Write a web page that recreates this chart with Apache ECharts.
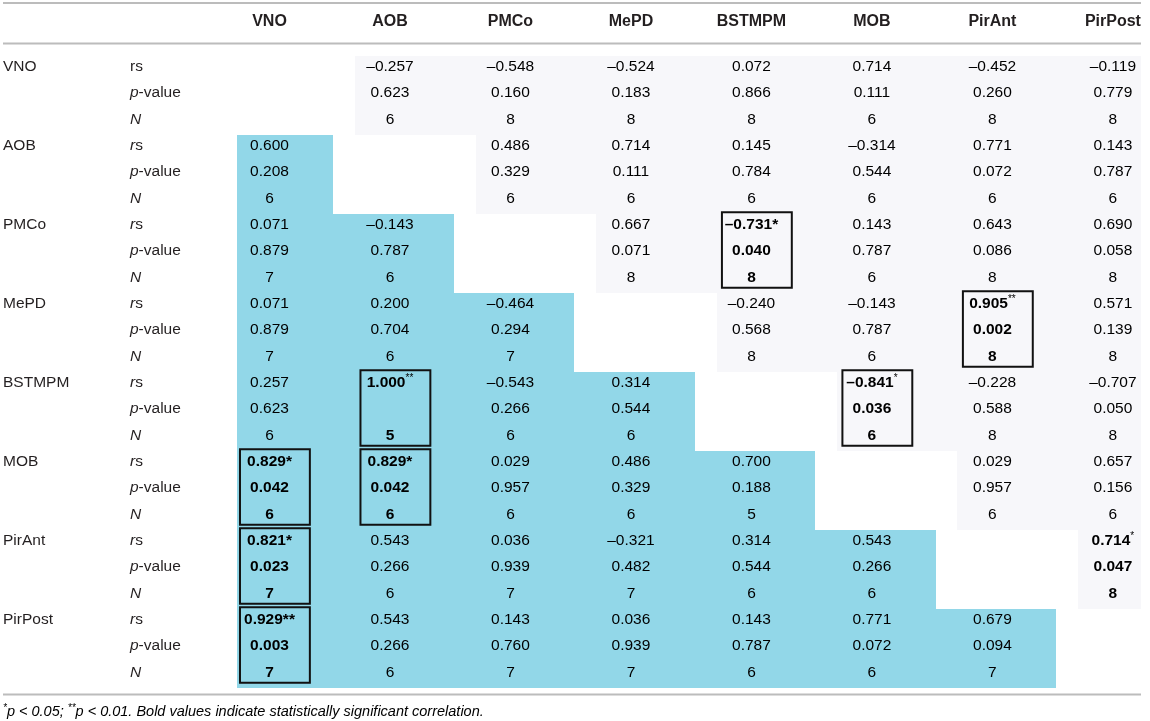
<!DOCTYPE html>
<html>
<head>
<meta charset="utf-8">
<title>Spearman correlations between regions</title>
<script src="https://cdn.jsdelivr.net/npm/echarts@6/dist/echarts.min.js"></script>
<style>
  html, body { margin: 0; padding: 0; background: #fff; }
  #chart { width: 1150px; height: 721px; }
</style>
</head>
<body>
<div id="chart"></div>
<script>
const regions = ['VNO', 'AOB', 'PMCo', 'MePD', 'BSTMPM', 'MOB', 'PirAnt', 'PirPost'];
const statLabels = ['rs', 'p-value', 'N'];

// rows = region of the row label, columns = region of the header
const rsValues = [
  [null, -0.257, -0.548, -0.524, 0.072, 0.714, -0.452, -0.119],
  [0.600, null, 0.486, 0.714, 0.145, -0.314, 0.771, 0.143],
  [0.071, -0.143, null, 0.667, -0.731, 0.143, 0.643, 0.690],
  [0.071, 0.200, -0.464, null, -0.240, -0.143, 0.905, 0.571],
  [0.257, 1.000, -0.543, 0.314, null, -0.841, -0.228, -0.707],
  [0.829, 0.829, 0.029, 0.486, 0.700, null, 0.029, 0.657],
  [0.821, 0.543, 0.036, -0.321, 0.314, 0.543, null, 0.714],
  [0.929, 0.543, 0.143, 0.036, 0.143, 0.771, 0.679, null]
];
const pValues = [
  [null, 0.623, 0.160, 0.183, 0.866, 0.111, 0.260, 0.779],
  [0.208, null, 0.329, 0.111, 0.784, 0.544, 0.072, 0.787],
  [0.879, 0.787, null, 0.071, 0.040, 0.787, 0.086, 0.058],
  [0.879, 0.704, 0.294, null, 0.568, 0.787, 0.002, 0.139],
  [0.623, null, 0.266, 0.544, null, 0.036, 0.588, 0.050],
  [0.042, 0.042, 0.957, 0.329, 0.188, null, 0.957, 0.156],
  [0.023, 0.266, 0.939, 0.482, 0.544, 0.266, null, 0.047],
  [0.003, 0.266, 0.760, 0.939, 0.787, 0.072, 0.094, null]
];
const nValues = [
  [null, 6, 8, 8, 8, 6, 8, 8],
  [6, null, 6, 6, 6, 6, 6, 6],
  [7, 6, null, 8, 8, 6, 8, 8],
  [7, 6, 7, null, 8, 6, 8, 8],
  [6, 5, 6, 6, null, 6, 8, 8],
  [6, 6, 6, 6, 5, null, 6, 6],
  [7, 6, 7, 7, 6, 6, null, 8],
  [7, 6, 7, 7, 6, 6, 7, null]
];

// [row, column, stars]
const significant = [
  [2, 4, '*'], [3, 6, '**'], [4, 1, '**'], [4, 5, '*'],
  [5, 0, '*'], [5, 1, '*'], [6, 0, '*'], [6, 7, '*'], [7, 0, '**']
];
const unboxed = [[6, 7]];
const smallStars = [[3, 6], [4, 1], [4, 5], [6, 7]];

const FONT = '"Liberation Sans", Arial, Helvetica, sans-serif';
const TEXT = '#231f20';
const BLUE = '#92d7e8';
const GRAY = '#f7f7fa';
const RULE = '#bcbcbc';

function fmt(v) {
  if (v === null || v === undefined) return '';
  return (v < 0 ? '\u2013' : '') + Math.abs(v).toFixed(3);
}
function inList(list, r, c) {
  return list.some(d => d[0] === r && d[1] === c);
}
function stepX(api) {
  return api.coord([1, 0])[0] - api.coord([0, 0])[0];
}
function stepY(api) {
  return api.coord([0, 1])[1] - api.coord([0, 0])[1];
}

const rowKeys = [];
regions.forEach(r => statLabels.forEach(s => rowKeys.push(r + '|' + s)));

// shaded blocks: lower triangle blue, upper triangle gray
const cellData = [];
regions.forEach((_, r) => regions.forEach((_, c) => {
  if (r !== c) cellData.push([c, r * 3, c < r ? 1 : 0]);
}));

// the numbers
const valueData = [];
const valueText = [];
regions.forEach((_, r) => regions.forEach((_, c) => {
  if (r === c) return;
  const sig = significant.find(d => d[0] === r && d[1] === c);
  const texts = [fmt(rsValues[r][c]), fmt(pValues[r][c]),
    nValues[r][c] === null ? '' : String(nValues[r][c])];
  texts.forEach((t, s) => {
    if (!t) return;
    let txt;
    if (sig) {
      txt = '{b|' + t + '}';
      if (s === 0) txt += (inList(smallStars, r, c) ? '{sup|' : '{b|') + sig[2] + '}';
    } else {
      txt = '{n|' + t + '}';
    }
    valueData.push([c, r * 3 + s]);
    valueText.push(txt);
  });
}));

const boxData = significant
  .filter(d => !inList(unboxed, d[0], d[1]))
  .map(d => [d[1], d[0] * 3]);

const richValues = {
  n: { fontFamily: FONT, fontSize: 15.5, color: TEXT, lineHeight: 18 },
  b: { fontFamily: FONT, fontSize: 15.5, color: TEXT, lineHeight: 18, fontWeight: 'bold' },
  sup: { fontFamily: FONT, fontSize: 10, color: TEXT, lineHeight: 10, verticalAlign: 'top' }
};

const chart = echarts.init(document.getElementById('chart'));

chart.setOption({
  backgroundColor: '#fff',
  animation: false,
  grid: { left: 269.5, right: 37.1, top: 66.7, bottom: 48.7 },
  xAxis: {
    type: 'category',
    data: regions,
    position: 'top',
    boundaryGap: false,
    axisLine: { show: false },
    axisTick: { show: false },
    splitLine: { show: false },
    axisLabel: {
      interval: 0,
      margin: 44.7,
      verticalAlign: 'middle',
      fontFamily: FONT,
      fontSize: 16,
      fontWeight: 'bold',
      color: TEXT
    }
  },
  yAxis: {
    type: 'category',
    data: rowKeys,
    inverse: true,
    boundaryGap: false,
    axisLine: { show: false },
    axisTick: { show: false },
    splitLine: { show: false },
    axisLabel: {
      interval: 0,
      align: 'left',
      margin: 266.5,
      formatter: function (value, index) {
        const parts = value.split('|');
        const reg = index % 3 === 0 ? parts[0] : ' ';
        let sub;
        if (parts[1] === 'rs') sub = index === 0 ? '{n|rs}' : '{i|r}{n|s}';
        else if (parts[1] === 'p-value') sub = '{i|p}{n|-value}';
        else sub = '{i|N}';
        return '{reg|' + reg + '}' + sub;
      },
      rich: {
        reg: { width: 127, align: 'left', fontFamily: FONT, fontSize: 15.5, color: TEXT },
        n: { fontFamily: FONT, fontSize: 15.5, color: TEXT },
        i: { fontFamily: FONT, fontSize: 15.5, color: TEXT, fontStyle: 'italic' }
      }
    }
  },
  series: [
    {
      type: 'custom',
      name: 'cells',
      z: 1,
      silent: true,
      data: cellData,
      renderItem: function (params, api) {
        const c = api.value(0);
        const p = api.coord([c, api.value(1)]);
        const sx = stepX(api), sy = stepY(api);
        const lower = api.value(2) === 1;
        let x0, x1;
        if (lower) {
          x0 = p[0] - (c === 0 ? 0.27 : 0.47) * sx;
          x1 = p[0] + 0.53 * sx;
        } else {
          x0 = p[0] - 0.29 * sx;
          x1 = p[0] + (c === regions.length - 1 ? 0.233 : 0.71) * sx;
        }
        const y0 = Math.round(p[1] - 0.4 * sy);
        const y1 = Math.round(p[1] + 2.6 * sy);
        x0 = Math.round(x0);
        x1 = Math.round(x1);
        return {
          type: 'rect',
          shape: { x: x0, y: y0, width: x1 - x0, height: y1 - y0 },
          style: { fill: lower ? BLUE : GRAY }
        };
      }
    },
    {
      type: 'custom',
      name: 'boxes',
      z: 3,
      silent: true,
      data: boxData,
      renderItem: function (params, api) {
        const p = api.coord([api.value(0), api.value(1)]);
        const sx = stepX(api), sy = stepY(api);
        return {
          type: 'rect',
          shape: { x: p[0] - 0.245 * sx, y: p[1] - 0.475 * sy, width: 0.58 * sx, height: 2.87 * sy },
          style: { fill: 'none', stroke: '#111', lineWidth: 2 }
        };
      }
    },
    {
      type: 'custom',
      name: 'values',
      z: 4,
      silent: true,
      data: valueData,
      renderItem: function (params, api) {
        const p = api.coord([api.value(0), api.value(1)]);
        return {
          type: 'text',
          x: p[0],
          y: p[1],
          style: {
            text: valueText[params.dataIndex],
            rich: richValues,
            align: 'center',
            verticalAlign: 'middle'
          }
        };
      }
    }
  ],
  graphic: [
    { type: 'line', silent: true, shape: { x1: 3, y1: 3, x2: 1141, y2: 3 }, style: { stroke: RULE, lineWidth: 2 } },
    { type: 'line', silent: true, shape: { x1: 3, y1: 43.5, x2: 1141, y2: 43.5 }, style: { stroke: RULE, lineWidth: 2 } },
    { type: 'line', silent: true, shape: { x1: 3, y1: 694.5, x2: 1141, y2: 694.5 }, style: { stroke: RULE, lineWidth: 2 } },
    {
      type: 'text',
      x: 3,
      y: 712,
      silent: true,
      style: {
        text: '{s|*}{t|p < 0.05; }{s|**}{t|p < 0.01. Bold values indicate statistically significant correlation.}',
        verticalAlign: 'middle',
        rich: {
          t: { fontFamily: FONT, fontSize: 14.5, fontStyle: 'italic', color: TEXT, lineHeight: 17 },
          s: { fontFamily: FONT, fontSize: 10, fontStyle: 'italic', color: TEXT, lineHeight: 12, verticalAlign: 'top' }
        }
      }
    }
  ]
});

window.addEventListener('resize', () => chart.resize());
</script>
</body>
</html>
